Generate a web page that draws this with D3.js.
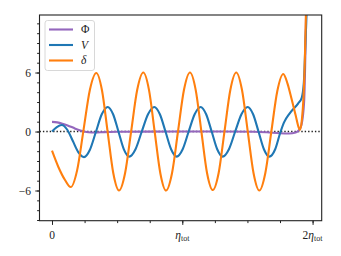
<!DOCTYPE html>
<html>
<head>
<meta charset="utf-8">
<script src="https://cdn.jsdelivr.net/npm/d3@7"></script>
<style>
    body { margin: 0; background: #fff; }
    svg text { font-family: "Liberation Serif", "DejaVu Serif", serif; }
</style>
</head>
<body>
<div class="chart"></div>
<script>
// eta / eta_tot on x
const phiPoints = [
    [0, 0.98], [0.04, 0.93], [0.08, 0.8], [0.12, 0.62], [0.16, 0.4], [0.2, 0.17],
    [0.24, 0.02], [0.28, -0.08], [0.33, -0.1], [0.4, -0.06], [0.5, -0.03], [0.7, -0.01],
    [1.0, 0], [1.3, 0], [1.55, -0.02], [1.65, -0.08], [1.75, -0.18], [1.82, -0.2],
    [1.87, -0.1], [1.895, 0.15], [1.915, 0.7], [1.935, 3], [1.945, 8], [1.955, 16], [1.962, 24]
]

const vPoints = [
    [0, 0], [0.037, 0.45], [0.0744, 0.66],
    [0.1172, 0.18], [0.16, -0.97], [0.2028, -2.12], [0.2456, -2.6],
    [0.291, -1.85], [0.3366, -0.05], [0.382, 1.75], [0.4275, 2.5],
    [0.4689, 1.76], [0.5103, -0.02], [0.5516, -1.81], [0.593, -2.55],
    [0.641, -1.8], [0.689, 0], [0.737, 1.76], [0.785, 2.5],
    [0.828, 1.76], [0.871, 0], [0.914, -1.8], [0.957, -2.55],
    [1.003, -1.8], [1.049, 0], [1.095, 1.76], [1.141, 2.5],
    [1.183, 1.76], [1.2255, 0], [1.268, -1.8], [1.31, -2.55],
    [1.358, -1.8], [1.406, 0], [1.454, 1.76], [1.502, 2.5],
    [1.5435, 1.76], [1.585, 0], [1.6265, -1.8], [1.668, -2.55],
    [1.713, -1.8], [1.75, -0.2], [1.78, 0.9], [1.826, 1.87], [1.89, 2.87],
    [1.916, 3.4], [1.933, 5], [1.945, 9], [1.957, 14], [1.966, 24]
]

const deltaPoints = [
    [0, -1.95], [0.048, -3.58], [0.0998, -4.93], [0.1435, -5.65],
    [0.1926, -3.95], [0.2418, 0.15], [0.2909, 4.25], [0.34, 5.95],
    [0.3835, 4.2], [0.427, -0.03], [0.4705, -4.25], [0.514, -6.0],
    [0.5607, -4.24], [0.6073, 0], [0.654, 4.24], [0.7007, 6],
    [0.7443, 4.24], [0.7879, 0], [0.8314, -4.24], [0.875, -6],
    [0.921, -4.24], [0.967, 0], [1.013, 4.24], [1.059, 6],
    [1.1028, 4.24], [1.1465, 0], [1.1903, -4.24], [1.234, -5.95],
    [1.279, -4.22], [1.324, 0.02], [1.369, 4.25], [1.414, 6],
    [1.458, 4.24], [1.5025, 0], [1.547, -4.24], [1.591, -6],
    [1.637, -4.24], [1.683, -0.05], [1.729, 4.1], [1.775, 5.85],
    [1.807, 4.9], [1.839, 3.3], [1.871, 1.6], [1.891, 0.5], [1.903, 0.15],
    [1.918, 1.2], [1.93, 3.4], [1.94, 7], [1.9455, 10], [1.952, 14], [1.96, 24]
]

const seriesNames = ["Φ", "V", "δ"]
const seriesColors = ["#9467bd", "#1f77b4", "#ff7f0e"]

const yMajorTicks = [-6, 0, 6]
const yMinorTicks = d3.range(-9, 12)
const xMajorTicks = [0, 1, 2]
const xMinorTicks = d3.range(0, 2.01, 0.25)
const xTickLabels = [["0", ""], ["η", "tot"], ["2η", "tot"]]

const FONT = "Liberation Serif, DejaVu Serif, serif"

const width = 341,
    height = 256,
    margin = {
        top: 15,
        right: 19.3,
        bottom: 35.3,
        left: 39.5
    }
const innerW = width - margin.left - margin.right,
    innerH = height - margin.top - margin.bottom

const svg = d3.select(".chart")
    .append("svg")
    .attr("width", width)
    .attr("height", height)

const g = svg.append("g")
    .attr("transform", `translate(${margin.left},${margin.top})`)

const x = d3.scaleLinear().domain([-0.096, 2.07]).range([0, innerW])
const y = d3.scaleLinear().domain([-9.07, 11.85]).range([innerH, 0])

g.append("clipPath")
    .attr("id", "plot-clip")
    .append("rect")
    .attr("width", innerW)
    .attr("height", innerH)

const plot = g.append("g").attr("clip-path", "url(#plot-clip)")

// zero line
plot.append("line")
    .attr("x1", 0)
    .attr("x2", innerW)
    .attr("y1", y(0))
    .attr("y2", y(0))
    .attr("stroke", "#222")
    .attr("stroke-width", 1.4)
    .attr("stroke-dasharray", "1.4,2")

const line = d3.line()
    .x(d => x(d[0]))
    .y(d => y(d[1]))
    .curve(d3.curveMonotoneX)

const series = [phiPoints, vPoints, deltaPoints]
// draw order: phi under V under delta
series.forEach((pts, i) => {
    plot.append("path")
        .datum(pts)
        .attr("d", line)
        .attr("fill", "none")
        .attr("stroke", seriesColors[i])
        .attr("stroke-width", 2.1)
})

// axes
const xAxisMajor = d3.axisBottom(x).tickValues(xMajorTicks).tickSize(4.2).tickFormat("")
const xAxisMinor = d3.axisBottom(x).tickValues(xMinorTicks).tickSize(2.4).tickFormat("")
const yAxisMajor = d3.axisLeft(y).tickValues(yMajorTicks).tickSize(4.2)
    .tickFormat(d => d < 0 ? "\u2212" + Math.abs(d) : d)
const yAxisMinor = d3.axisLeft(y).tickValues(yMinorTicks).tickSize(2.4).tickFormat("")

function styleAxis(sel) {
    sel.select(".domain").remove()
    sel.selectAll("line").attr("stroke", "#222").attr("stroke-width", 1)
}

g.append("g").attr("transform", `translate(0,${innerH})`).call(xAxisMinor).call(styleAxis)
g.append("g").attr("transform", `translate(0,${innerH})`).call(xAxisMajor).call(styleAxis)
g.append("g").call(yAxisMinor).call(styleAxis)
const yg = g.append("g").call(yAxisMajor).call(styleAxis)
yg.attr("font-family", FONT).attr("font-size", 11.5)
yg.selectAll("text")
    .attr("font-family", FONT)
    .attr("font-size", 11.5)
    .attr("fill", "#222")
    .attr("x", -8.5)

// x tick labels with subscript
xMajorTicks.forEach((t, i) => {
    const txt = g.append("text")
        .attr("x", x(t))
        .attr("y", innerH + 18)
        .attr("text-anchor", "middle")
        .attr("font-family", FONT)
        .attr("font-size", 11.5)
        .attr("fill", "#222")
    const main = xTickLabels[i][0]
    if (main.startsWith("2")) {
        txt.append("tspan").text("2")
        txt.append("tspan").attr("font-style", "italic").text("η")
    } else if (main === "η") {
        txt.append("tspan").attr("font-style", "italic").text("η")
    } else {
        txt.append("tspan").text(main)
    }
    if (xTickLabels[i][1]) {
        txt.append("tspan")
            .attr("font-size", 8)
            .attr("dy", 2)
            .text(xTickLabels[i][1])
    }
})

// frame
g.append("rect")
    .attr("width", innerW)
    .attr("height", innerH)
    .attr("fill", "none")
    .attr("stroke", "#222")
    .attr("stroke-width", 1.1)

// legend
const legend = g.append("g").attr("transform", "translate(5.5,5.5)")
legend.append("rect")
    .attr("width", 49.5)
    .attr("height", 50)
    .attr("rx", 2.5)
    .attr("fill", "#fff")
    .attr("fill-opacity", 0.85)
    .attr("stroke", "#d4d4d4")
    .attr("stroke-width", 0.9)

seriesNames.forEach((name, i) => {
    const row = legend.append("g").attr("transform", `translate(0,${9 + i * 15.5})`)
    row.append("line")
        .attr("x1", 4)
        .attr("x2", 28)
        .attr("stroke", seriesColors[i])
        .attr("stroke-width", 2.1)
    row.append("text")
        .attr("x", 36)
        .attr("y", 3.8)
        .attr("font-family", FONT)
        .attr("font-size", 11.5)
        .attr("font-style", i === 0 ? "normal" : "italic")
        .attr("fill", "#222")
        .text(name)
})
</script>
</body>
</html>
